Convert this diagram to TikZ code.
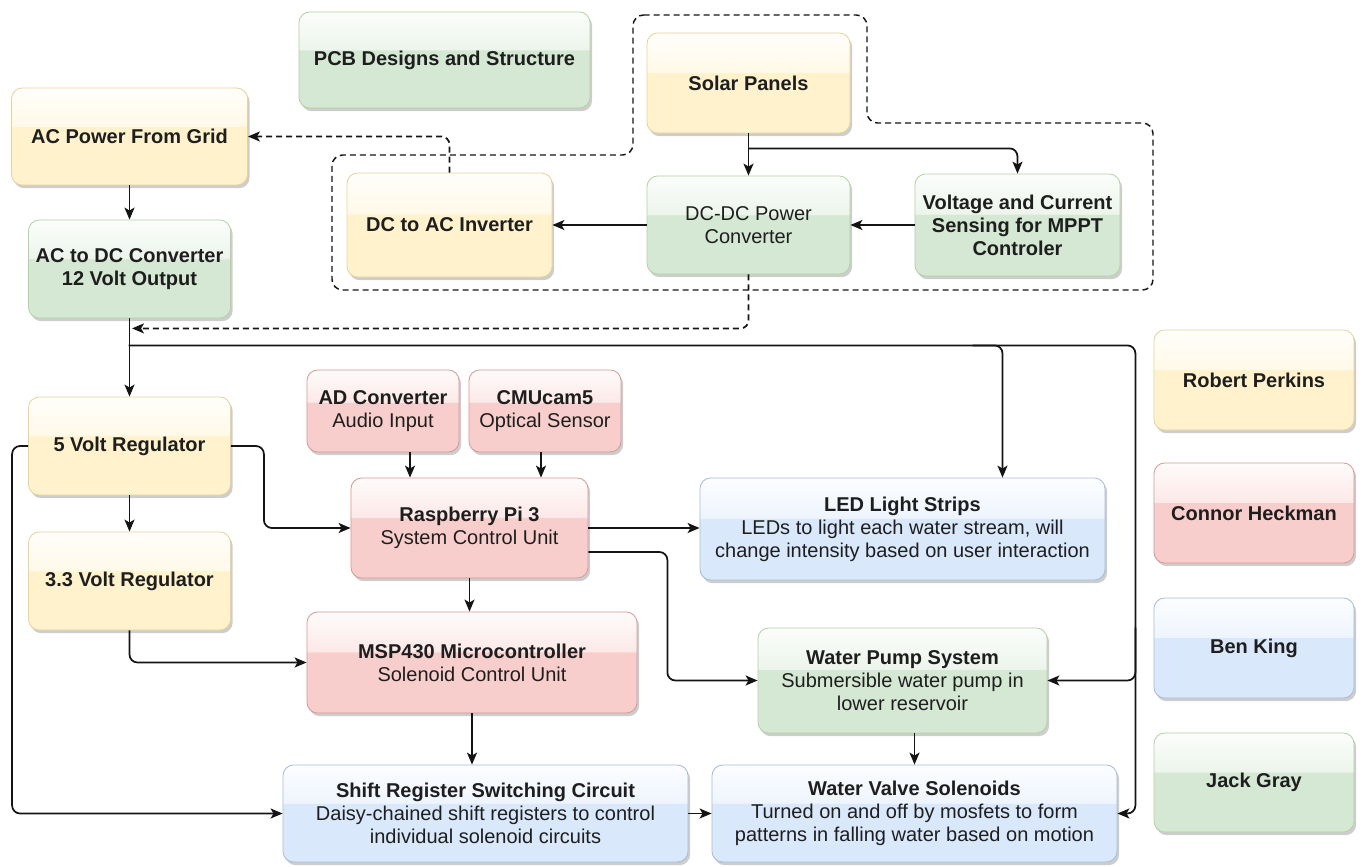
\documentclass[tikz,border=0pt]{standalone}
\usepackage{fontspec}
\setmainfont{Liberation Sans}
\usetikzlibrary{arrows.meta,shadows,calc}
\definecolor{fY}{HTML}{FFF2CC}\definecolor{sY}{HTML}{D6B656}
\definecolor{fG}{HTML}{D5E8D4}\definecolor{sG}{HTML}{82B366}
\definecolor{fR}{HTML}{F8CECC}\definecolor{sR}{HTML}{B85450}
\definecolor{fB}{HTML}{DAE8FC}\definecolor{sB}{HTML}{6C8EBF}
\definecolor{txt}{HTML}{1E1E1E}
\definecolor{ln}{HTML}{141414}
\pgfdeclareverticalshading{glassY}{100bp}{color(0bp)=(fY); color(25bp)=(fY); color(55bp)=(fY); color(55.5bp)=(fY!45!white); color(75bp)=(fY!8!white); color(100bp)=(white)}
\pgfdeclareverticalshading{glassG}{100bp}{color(0bp)=(fG); color(25bp)=(fG); color(55bp)=(fG); color(55.5bp)=(fG!45!white); color(75bp)=(fG!8!white); color(100bp)=(white)}
\pgfdeclareverticalshading{glassR}{100bp}{color(0bp)=(fR); color(25bp)=(fR); color(55bp)=(fR); color(55.5bp)=(fR!45!white); color(75bp)=(fR!8!white); color(100bp)=(white)}
\pgfdeclareverticalshading{glassB}{100bp}{color(0bp)=(fB); color(25bp)=(fB); color(55bp)=(fB); color(55.5bp)=(fB!45!white); color(75bp)=(fB!8!white); color(100bp)=(white)}
\tikzset{
  box/.style={rounded corners=8pt, align=center, text=txt, inner sep=2pt,
    font=\fontsize{15}{17.25}\selectfont, line width=0.6pt,
    drop shadow={shadow xshift=1.6pt, shadow yshift=-2.4pt, opacity=0.32, fill=black!60}},
  ybox/.style={box, draw=sY!60!white, shade, shading=glassY},
  gbox/.style={box, draw=sG!60!white, shade, shading=glassG},
  rbox/.style={box, draw=sR!60!white, shade, shading=glassR},
  bbox/.style={box, draw=sB!60!white, shade, shading=glassB},
  sz/.style n args={2}{minimum width=#1*0.75pt, minimum height=#2*0.75pt},
  wire/.style={draw=ln, line width=1.3pt, rounded corners=6pt},
  arr/.style={wire, -{Stealth[length=9pt,width=7.5pt,inset=2.2pt]}},
  darr/.style={arr, dash pattern=on 4.5pt off 3pt},
}
\begin{document}
\begin{tikzpicture}[x=0.75pt,y=-0.75pt]
\fill[white] (0,0) rectangle (1364,867);
\useasboundingbox (0,0) rectangle (1364,867);

% dashed grouping outline
\draw[ln, line width=1.1pt, dash pattern=on 4.5pt off 3pt, rounded corners=8pt]
  (633,15) -- (867,15) -- (867,123) -- (1153,123) -- (1153,290) -- (332,290)
  -- (332,155) -- (633,155) -- cycle;

% nodes
\node[gbox, sz={291}{96}]  (pcb)   at (444.5,60)   {\textbf{PCB Designs and Structure}};
\node[ybox, sz={236}{97}]  (grid)  at (129.5,136.5) {\textbf{AC Power From Grid}};
\node[gbox, sz={202}{98}]  (acdc)  at (129.5,269)  {\textbf{AC to DC Converter}\\\textbf{12 Volt Output}};
\node[ybox, sz={203}{100}] (solar) at (748.5,83)   {\textbf{Solar Panels}};
\node[ybox, sz={205}{104}] (dcac)  at (449.5,225)  {\textbf{DC to AC Inverter}};
\node[gbox, sz={203}{98}]  (dcdc)  at (748.5,225)  {DC-DC Power\\Converter};
\node[gbox, sz={205}{102}] (vcs)   at (1017.5,225) {\textbf{Voltage and Current}\\\textbf{Sensing for MPPT}\\\textbf{Controler}};

\node[ybox, sz={200}{100}] (robert) at (1254,380)   {\textbf{Robert Perkins}};
\node[rbox, sz={200}{100}] (connor) at (1254,513)   {\textbf{Connor Heckman}};
\node[bbox, sz={200}{100}] (ben)    at (1254,648)   {\textbf{Ben King}};
\node[gbox, sz={200}{99}]  (jack)   at (1254,782.5) {\textbf{Jack Gray}};

\node[ybox, sz={202}{98}]  (v5)    at (129.5,446)  {\textbf{5 Volt Regulator}};
\node[ybox, sz={202}{98}]  (v33)   at (129.5,581)  {\textbf{3.3 Volt Regulator}};
\node[rbox, sz={152}{82}]  (adc)   at (383,411)    {\textbf{AD Converter}\\Audio Input};
\node[rbox, sz={152}{82}]  (cmu)   at (545,411)    {\textbf{CMUcam5}\\Optical Sensor};
\node[rbox, sz={237}{100}] (rpi)   at (469.5,528)  {\textbf{Raspberry Pi 3}\\System Control Unit};
\node[bbox, sz={405}{102}] (led)   at (902.5,529)  {\textbf{LED Light Strips}\\LEDs to light each water stream, will\\change intensity based on user interaction};
\node[rbox, sz={330}{101}] (msp)   at (472,662.5)  {\textbf{MSP430 Microcontroller}\\Solenoid Control Unit};
\node[gbox, sz={289}{105}] (pump)  at (902.5,680.5) {\textbf{Water Pump System}\\Submersible water pump in\\lower reservoir};
\node[bbox, sz={405}{97}]  (shift) at (485.5,813.5) {\textbf{Shift Register Switching Circuit}\\Daisy-chained shift registers to control\\individual solenoid circuits};
\node[bbox, sz={405}{97}]  (valve) at (914.5,813.5) {\textbf{Water Valve Solenoids}\\Turned on and off by mosfets to form\\patterns in falling water based on motion};

% helper coordinates
\coordinate (sj)   at ($(solar.south)+(0,15)$);
\coordinate (pj)   at ($(acdc.south)+(0,27)$);
\coordinate (busx) at ($(valve.east)+(18,0)$);
\coordinate (ledin) at ($(led.north)+(100,0)$);
\coordinate (a1)   at ($(adc.south)+(27,0)$);
\coordinate (c1)   at ($(cmu.south)+(-4,0)$);
\coordinate (r1)   at ($(rpi.east)+(0,24)$);
\coordinate (dj)   at ($(acdc.south)+(2.5,10)$);

% connectors top
\draw[arr] (grid.south) -- (acdc.north);
\draw[arr] (solar.south) -- (dcdc.north);
\draw[arr] (sj) -| (vcs.north);
\draw[arr] (vcs.west) -- (dcdc.east);
\draw[arr] (dcdc.west) -- (dcac.east);
\draw[darr] (dcac.north) |- (grid.east);
\draw[darr] (dcdc.south) |- (dj);

% power bus
\draw[arr] (acdc.south) -- (v5.north);
\draw[arr] ($(pj)+(-1,0)$) -| (busx) -- (valve.east);
\draw[arr] (busx |- pump.north) |- (pump.east);
\draw[arr] ($(pj -| ledin)+(-30,0)$) -| (ledin);

% regulators
\draw[arr] (v5.south) -- (v33.north);
\draw[arr] (v5.east) -- ++(33,0) |- (rpi.west);
\draw[arr] (v5.west) -- ++(-16,0) |- (shift.west);
\draw[arr] (v33.south) |- (msp.west);

% control
\draw[arr] (a1) -- (a1 |- rpi.north);
\draw[arr] (c1) -- (c1 |- rpi.north);
\draw[arr] (rpi.east) -- (rpi.east -| led.west);
\draw[arr] (r1) -- ++(79,0) |- (pump.west);
\draw[arr] (rpi.south) -- (rpi.south |- msp.north);
\draw[arr] (msp.south) -- (msp.south |- shift.north);
\draw[arr] (shift.east) -- (valve.west);
\draw[arr] (valve.north |- pump.south) -- (valve.north);
\end{tikzpicture}
\end{document}
